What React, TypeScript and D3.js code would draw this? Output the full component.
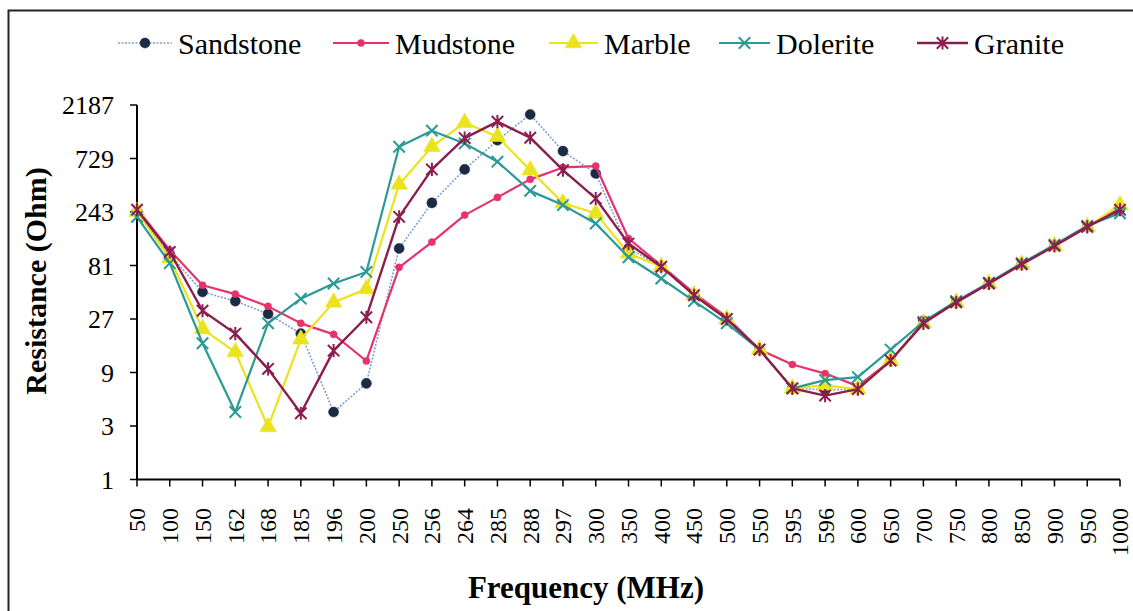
import React, { useEffect, useRef } from "react";
import * as d3 from "d3";

// frequency categories (MHz) - the x axis is categorical, not linear
const freqs = ["50", "100", "150", "162", "168", "185", "196", "200", "250", "256", "264", "285", "288", "297", "300", "350", "400", "450", "500", "550", "595", "596", "600", "650", "700", "750", "800", "850", "900", "950", "1000"];

// resistance (Ohm)
const sandstone = [243, 102, 47, 39, 30, 20, 4.0, 7.2, 115, 293, 583, 1060, 1800, 849, 536, 115, 79, 44, 27, 14.4, 6.5, 6.3, 6.4, 11.5, 26, 38, 56, 83, 121, 179, 258];
const mudstone = [260, 111, 54, 45, 35, 24.7, 19.7, 11.4, 78, 131, 228, 328, 475, 607, 624, 141, 81, 46, 28, 14.4, 10.6, 8.8, 6.8, 11.5, 24.7, 38, 56, 83, 121, 179, 261];
const marble = [245, 94, 22, 13.7, 2.94, 17.8, 38, 50, 428, 928, 1524, 1140, 574, 292, 236, 104, 79, 44, 27, 14.4, 6.5, 6.9, 6.4, 11.5, 24.7, 38, 56, 83, 121, 179, 280];
const dolerite = [220, 85, 16.4, 4.0, 24.7, 41, 56, 71, 928, 1290, 994, 683, 375, 280, 192, 96, 62, 39, 24.7, 14.4, 6.5, 7.7, 8.2, 14.4, 25.5, 39, 57, 85, 124, 183, 237];
const granite = [255, 107, 32, 20, 9.7, 3.9, 14.1, 28, 220, 583, 1108, 1553, 1117, 574, 321, 127, 79, 44, 27, 14.4, 6.5, 5.6, 6.4, 11.5, 24.7, 38, 56, 83, 121, 179, 255];

const yTicks = [1, 3, 9, 27, 81, 243, 729, 2187];

const W = 1133;
const H = 611;
const left = 137;
const right = 1120;
const top = 105;
const bottom = 479.5;

// excel style markers
const crossSym = {
  draw(ctx: any, size: number) {
    const r = Math.sqrt(size) / 2;
    ctx.moveTo(-r, -r); ctx.lineTo(r, r);
    ctx.moveTo(-r, r); ctx.lineTo(r, -r);
  },
};
const starSym = {
  draw(ctx: any, size: number) {
    const r = Math.sqrt(size) / 2;
    ctx.moveTo(-r, -r); ctx.lineTo(r, r);
    ctx.moveTo(-r, r); ctx.lineTo(r, -r);
    ctx.moveTo(0, -r * 1.15); ctx.lineTo(0, r * 1.15);
  },
};

const series = [
  { name: "Sandstone", values: sandstone, line: "#7f9fd6", mark: "#1c2b44", width: 1.6, dash: "2,1.5", sym: d3.symbolCircle, size: 80, fill: true, lx: 118, tx: 178 },
  { name: "Mudstone", values: mudstone, line: "#e5336c", mark: "#e5336c", width: 2.2, dash: null, sym: d3.symbolCircle, size: 40, fill: true, lx: 333, tx: 395 },
  { name: "Marble", values: marble, line: "#ece31f", mark: "#ece31f", width: 2.2, dash: null, sym: d3.symbolTriangle, size: 120, fill: true, lx: 549, tx: 604 },
  { name: "Dolerite", values: dolerite, line: "#2b9a97", mark: "#2b9a97", width: 2.2, dash: null, sym: crossSym, size: 130, fill: false, lx: 719, tx: 776 },
  { name: "Granite", values: granite, line: "#8c1d4f", mark: "#8c1d4f", width: 2.4, dash: null, sym: starSym, size: 130, fill: false, lx: 917, tx: 974 },
];

export default function App() {
  const ref = useRef<SVGSVGElement | null>(null);

  useEffect(() => {
    const svg = d3.select(ref.current);
    svg.selectAll("*").remove();

    const x = d3.scalePoint().domain(freqs).range([left, right]);
    const y = d3.scaleLog().base(3).domain([1, 2187]).range([bottom, top]);

    svg.append("rect").attr("width", W).attr("height", H).attr("fill", "#fff");
    // outer frame, right/bottom edges fall off the picture
    svg.append("rect")
      .attr("x", 8.5).attr("y", 10.5).attr("width", W + 10).attr("height", H + 10)
      .attr("fill", "none").attr("stroke", "#222").attr("stroke-width", 2);

    const font = "'Liberation Serif', 'Times New Roman', serif";

    // y axis
    svg.append("line")
      .attr("x1", left).attr("x2", left).attr("y1", top).attr("y2", bottom)
      .attr("stroke", "#000").attr("stroke-width", 2);
    const yt = svg.append("g").selectAll("g").data(yTicks).enter().append("g");
    yt.append("line")
      .attr("x1", left - 7).attr("x2", left)
      .attr("y1", (d) => y(d)).attr("y2", (d) => y(d))
      .attr("stroke", "#000").attr("stroke-width", 1.5);
    yt.append("text")
      .attr("x", left - 23).attr("y", (d) => y(d)).attr("dy", "0.35em")
      .attr("text-anchor", "end").attr("font-family", font).attr("font-size", 26)
      .text((d) => d);

    // x axis
    svg.append("line")
      .attr("x1", left).attr("x2", right).attr("y1", bottom).attr("y2", bottom)
      .attr("stroke", "#000").attr("stroke-width", 2);
    const xt = svg.append("g").selectAll("g").data(freqs).enter().append("g");
    xt.append("line")
      .attr("x1", (d) => x(d)!).attr("x2", (d) => x(d)!)
      .attr("y1", bottom).attr("y2", bottom + 7)
      .attr("stroke", "#000").attr("stroke-width", 1.5);
    xt.append("text")
      .attr("transform", (d) => "translate(" + x(d) + "," + 508 + ") rotate(-90)")
      .attr("dy", "0.35em")
      .attr("text-anchor", "end").attr("font-family", font).attr("font-size", 24)
      .text((d) => d);

    // axis titles
    svg.append("text")
      .attr("transform", "translate(46,281) rotate(-90)")
      .attr("text-anchor", "middle").attr("font-family", font).attr("font-weight", "bold")
      .attr("font-size", 30).text("Resistance (Ohm)");
    svg.append("text")
      .attr("x", 586).attr("y", 598)
      .attr("text-anchor", "middle").attr("font-family", font).attr("font-weight", "bold")
      .attr("font-size", 31).text("Frequency (MHz)");

    // series
    series.forEach((s) => {
      const line = d3.line<number>()
        .x((d, i) => x(freqs[i])!)
        .y((d) => y(d));
      svg.append("path")
        .datum(s.values)
        .attr("d", line)
        .attr("fill", "none")
        .attr("stroke", s.line)
        .attr("stroke-width", s.width)
        .attr("stroke-dasharray", s.dash)
        .attr("stroke-linejoin", "round");
      svg.append("g").selectAll("path").data(s.values).enter().append("path")
        .attr("transform", (d, i) => "translate(" + x(freqs[i]) + "," + y(d) + ")")
        .attr("d", d3.symbol().type(s.sym as any).size(s.size)())
        .attr("fill", s.fill ? s.mark : "none")
        .attr("stroke", s.mark)
        .attr("stroke-width", s.fill ? 0.5 : 2);
    });

    // legend
    const ly = 43;
    series.forEach((s) => {
      const g = svg.append("g");
      g.append("line")
        .attr("x1", s.lx).attr("x2", s.tx - 6).attr("y1", ly).attr("y2", ly)
        .attr("stroke", s.line).attr("stroke-width", s.width)
        .attr("stroke-dasharray", s.dash);
      g.append("path")
        .attr("transform", "translate(" + (s.lx + s.tx - 6) / 2 + "," + ly + ")")
        .attr("d", d3.symbol().type(s.sym as any).size(s.size)())
        .attr("fill", s.fill ? s.mark : "none")
        .attr("stroke", s.mark)
        .attr("stroke-width", s.fill ? 0.5 : 2);
      g.append("text")
        .attr("x", s.tx).attr("y", ly).attr("dy", "0.35em")
        .attr("font-family", font).attr("font-size", 30)
        .text(s.name);
    });
  }, []);

  return (
    <svg
      ref={ref}
      width={W}
      height={H}
      style={{ position: "absolute", left: 0, top: 0, display: "block" }}
    />
  );
}
